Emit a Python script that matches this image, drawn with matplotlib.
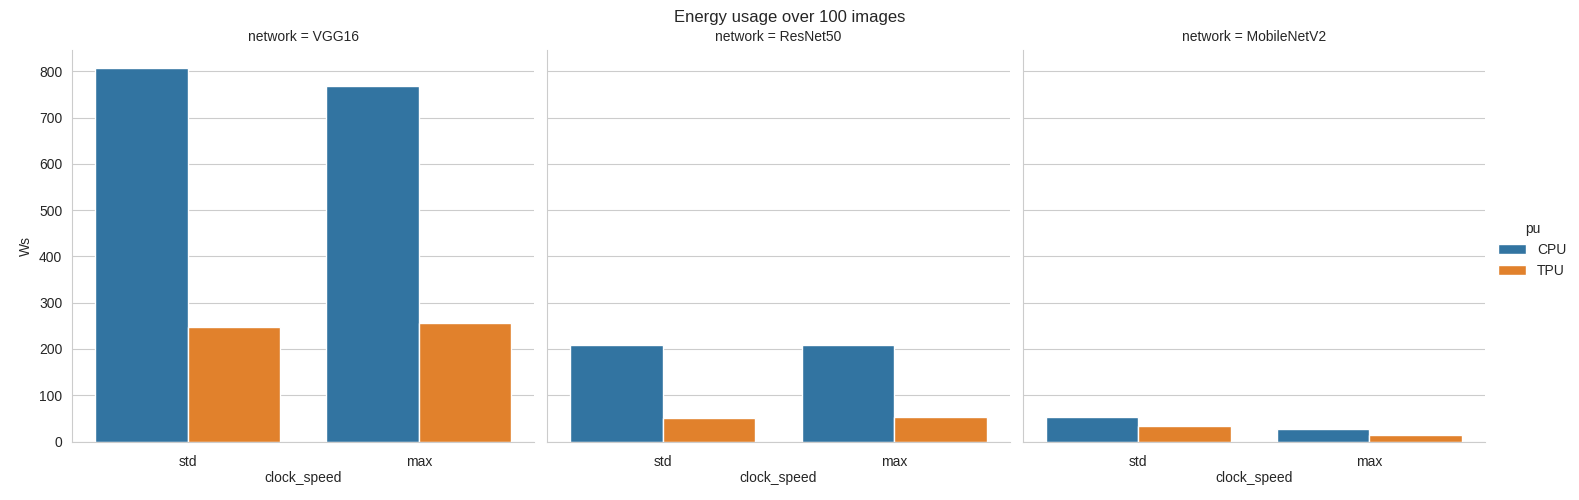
"""Energy usage over 100 images, CPU vs TPU per network."""

import matplotlib
matplotlib.use("Agg")
import matplotlib.pyplot as plt
import pandas as pd
import seaborn as sns

networks = ["VGG16", "ResNet50", "MobileNetV2"]
clock_speeds = ["std", "max"]
pus = ["CPU", "TPU"]

# Ws per (network, clock_speed, pu)
vgg16_ws = {("std", "CPU"): 807, ("std", "TPU"): 247, ("max", "CPU"): 768, ("max", "TPU"): 256}
resnet50_ws = {("std", "CPU"): 209, ("std", "TPU"): 50, ("max", "CPU"): 209, ("max", "TPU"): 52}
mobilenet_ws = {("std", "CPU"): 53, ("std", "TPU"): 34, ("max", "CPU"): 28, ("max", "TPU"): 15}

rows = []
for net, vals in zip(networks, [vgg16_ws, resnet50_ws, mobilenet_ws]):
    for cs in clock_speeds:
        for pu in pus:
            rows.append({"network": net, "clock_speed": cs, "pu": pu, "Ws": vals[(cs, pu)]})
df = pd.DataFrame(rows)

sns.set_style("whitegrid")
plt.rcParams["font.family"] = ["Liberation Sans", "DejaVu Sans"]
plt.rcParams["xtick.major.pad"] = 6.5

g = sns.catplot(
    data=df, x="clock_speed", y="Ws", hue="pu", col="network",
    kind="bar", height=5, aspect=1, order=clock_speeds, hue_order=pus,
    col_order=networks,
)
for ax in g.axes.flat:
    ax.xaxis.labelpad = 1.5
g.fig.set_size_inches(15.79, 5.0)
g.fig.subplots_adjust(top=0.901, bottom=0.117, left=0.0456, right=0.9405, wspace=0.028)
g.fig.suptitle("Energy usage over 100 images", fontsize=12)

g.fig.savefig("out.png", dpi=100)
